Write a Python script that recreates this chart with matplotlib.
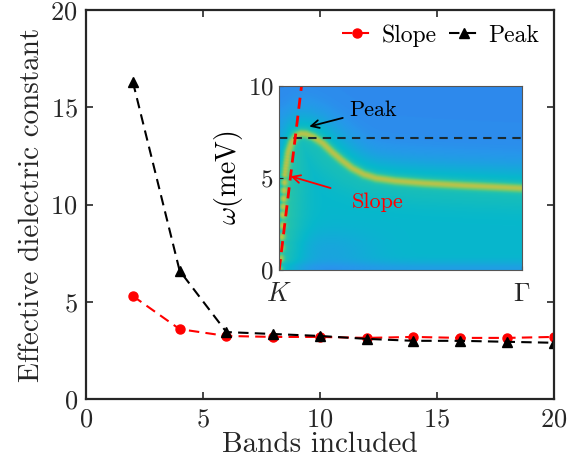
import numpy as np
import matplotlib
matplotlib.use("Agg")
import matplotlib.pyplot as plt
from matplotlib.colors import LinearSegmentedColormap

plt.rcParams['font.family'] = ['cmr10', 'DejaVu Serif']
plt.rcParams['mathtext.fontset'] = 'cm'
plt.rcParams['axes.formatter.use_mathtext'] = True

# main data
bands = [2, 4, 6, 8, 10, 12, 14, 16, 18, 20]
slope = [5.3, 3.6, 3.25, 3.2, 3.2, 3.15, 3.2, 3.15, 3.15, 3.2]
peak = [16.3, 6.6, 3.45, 3.35, 3.25, 3.1, 3.0, 3.0, 2.95, 2.9]

# inset: band dispersion (K -> Gamma, meV)
disp_k = [0.0, 0.005, 0.01, 0.02, 0.035, 0.05, 0.07, 0.09, 0.11, 0.14, 0.18,
          0.22, 0.26, 0.30, 0.35, 0.40, 0.48, 0.6, 0.76, 1.0]
disp_w = [0.0, 1.5, 3.0, 5.2, 6.4, 6.95, 7.3, 7.42, 7.4, 7.25, 6.9,
          6.4, 5.95, 5.55, 5.2, 5.0, 4.85, 4.72, 4.6, 4.45]
peak_level = 7.2
slope_top_k = 0.092   # k where the red slope line reaches 10 meV

parula = LinearSegmentedColormap.from_list('parula', [
    (0.00, (0.242, 0.150, 0.660)),
    (0.11, (0.281, 0.323, 0.958)),
    (0.23, (0.154, 0.590, 0.922)),
    (0.36, (0.025, 0.720, 0.800)),
    (0.48, (0.150, 0.765, 0.665)),
    (0.60, (0.440, 0.790, 0.440)),
    (0.73, (0.780, 0.760, 0.260)),
    (0.86, (0.990, 0.740, 0.240)),
    (1.00, (0.977, 0.983, 0.054))])

fig = plt.figure(figsize=(5.78, 4.73), dpi=100)
ax = fig.add_axes([0.149, 0.156, 0.809, 0.823])

ax.plot(bands, slope, '--o', color='red', lw=1.5, ms=6.5, label='Slope', dashes=(5, 3))
ax.plot(bands, peak, '--^', color='black', lw=1.5, ms=7, label='Peak', dashes=(5, 3))
ax.set_xlim(0, 20)
ax.set_ylim(0, 20)
ax.set_xticks([0, 5, 10, 15, 20])
ax.set_yticks([0, 5, 10, 15, 20])
ax.tick_params(direction='in', length=5, width=1.2, labelsize=19, top=True, right=True,
               colors='#262626', pad=6)
for s in ax.spines.values():
    s.set_linewidth(1.6)
    s.set_color('#262626')
ax.set_xlabel('Bands included', fontsize=21, color='#262626', labelpad=0)
ax.set_ylabel('Effective dielectric constant', fontsize=21, color='#262626', labelpad=4)
ax.legend(loc='upper right', ncol=2, frameon=False, fontsize=17, handlelength=1.3,
          handletextpad=0.4, columnspacing=0.5, borderaxespad=0.2)

# inset
ins = fig.add_axes([0.483, 0.429, 0.420, 0.389])
kk = np.linspace(0, 1, 400)
ww = np.linspace(0, 10, 300)
K, W = np.meshgrid(kk, ww)
ck = np.linspace(0, 1, 2000)
cw = np.interp(ck, disp_k, disp_w)
# distance to curve in roughly isotropic units
sx = 13.2
d = np.full(K.shape, 1e9)
for i in range(0, len(ck), 4):
    d = np.minimum(d, (K - ck[i]) ** 2 * sx ** 2 + (W - cw[i]) ** 2)
d = np.sqrt(d)
bandw = np.interp(kk, disp_k, disp_w)[None, :]
below = 1 / (1 + np.exp((W - bandw) / 0.7))
img = 0.21 + 0.15 * below + 0.29 * np.exp(-(d / 0.24) ** 2) + 0.13 * np.exp(-(d / 1.2) ** 2)
img -= 0.10 * np.exp(-(W / 0.45) ** 2) + 0.07 * np.exp(-((W - 1.0) / 1.2) ** 2) * np.exp(-((K - 0.2) / 0.2) ** 2)
ins.imshow(img, origin='lower', extent=[0, 1, 0, 10], aspect='auto', cmap=parula,
           vmin=0, vmax=1, interpolation='bilinear')
ins.plot([0, 1], [peak_level, peak_level], '--', color='#1a2a30', lw=1.5, dashes=(4, 3))
ins.plot([0, slope_top_k], [0, 10], '--', color='red', lw=2, dashes=(4, 2.5))
ins.annotate('Peak', xy=(0.124, 7.8), xytext=(0.29, 8.7), fontsize=16, color='black',
             va='center', arrowprops=dict(arrowstyle='->', color='black', lw=1.3,
                                          shrinkA=3, shrinkB=0, mutation_scale=14))
ins.annotate('Slope', xy=(0.047, 5.1), xytext=(0.30, 3.7), fontsize=16, color='red',
             va='center', arrowprops=dict(arrowstyle='->', color='red', lw=1.3,
                                          shrinkA=14, shrinkB=0, mutation_scale=14))
ins.set_xlim(0, 1)
ins.set_ylim(0, 10)
ins.set_xticks([0, 1])
ins.set_xticklabels([r'$K$', r'$\Gamma$'])
ins.set_yticks([0, 5, 10])
ins.tick_params(axis='y', direction='in', length=3, labelsize=18, colors='#262626', pad=4)
ins.tick_params(axis='x', direction='in', length=3, labelsize=19, colors='#262626', pad=9)
for s in ins.spines.values():
    s.set_linewidth(0.8)
    s.set_color('#555555')
ins.set_ylabel(r'$\omega$(meV)', fontsize=20, labelpad=2)

fig.savefig('out.png', dpi=100)
